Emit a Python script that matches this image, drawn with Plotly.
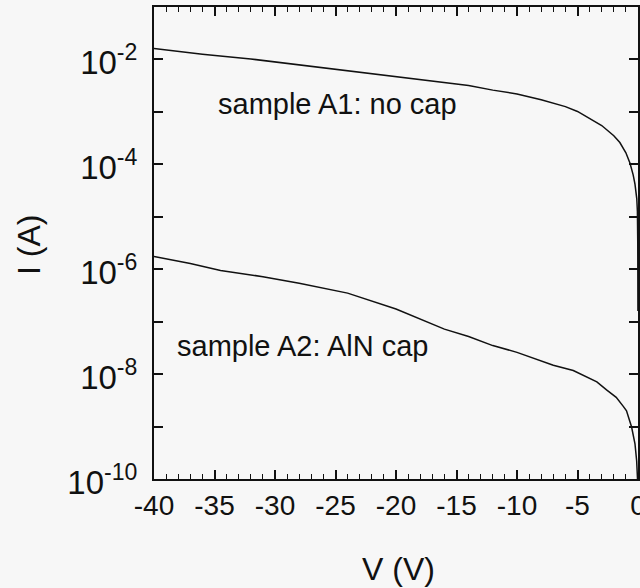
import plotly.graph_objects as go

# Sample A1: no cap
v_a1 = [-40, -36, -32, -28, -24, -20, -16, -14, -12, -10, -8, -6, -5, -4, -3, -2,
        -1.5, -1, -0.66, -0.4, -0.25, -0.1, -0.05, -0.02, -0.005]
i_a1 = [1.62e-2, 1.26e-2, 1.02e-2, 7.9e-3, 6.0e-3, 4.7e-3, 3.6e-3, 3.2e-3, 2.6e-3,
        2.2e-3, 1.7e-3, 1.26e-3, 1.02e-3, 7.6e-4, 5.5e-4, 3.5e-4, 2.6e-4, 1.66e-4,
        1.05e-4, 6.3e-5, 4.2e-5, 2.2e-5, 1.26e-5, 3.2e-6, 1.6e-7]

# Sample A2: AlN cap
v_a2 = [-40, -37, -34.5, -31, -28, -24, -20, -16, -14, -12, -10, -8, -7, -5.35, -4.5,
        -3.4, -2.6, -1.8, -1.2, -0.95, -0.53, -0.25, -0.11, -0.04]
i_a2 = [1.74e-6, 1.29e-6, 9.5e-7, 7.2e-7, 5.4e-7, 3.5e-7, 1.74e-7, 7.2e-8, 5.2e-8,
        3.5e-8, 2.6e-8, 1.78e-8, 1.48e-8, 1.17e-8, 9.5e-9, 7.1e-9, 5.0e-9, 3.6e-9,
        2.4e-9, 2.0e-9, 9.8e-10, 4.7e-10, 2.2e-10, 1.0e-10]

x_range = [-40, 0]
x_tickvals = [-40, -35, -30, -25, -20, -15, -10, -5, 0]
x_ticktext = ["-40", "-35", "-30", "-25", "-20", "-15", "-10", "-5", "0"]
x_minor_tickvals = list(range(-39, 0))
y_tickvals = [1e-10, 1e-9, 1e-8, 1e-7, 1e-6, 1e-5, 1e-4, 1e-3, 1e-2, 1e-1]
y_ticktext = ["10<sup>-10</sup>", "", "10<sup>-8</sup>", "", "10<sup>-6</sup>", "",
              "10<sup>-4</sup>", "", "10<sup>-2</sup>", ""]

label_a1 = "sample A1: no cap"
label_a2 = "sample A2: AlN cap"
x_title = "V (V)"
y_title = "I (A)"

FONT = "Liberation Sans, Arial, sans-serif"
INK = "#111111"

fig = go.Figure()
fig.add_trace(go.Scatter(x=v_a1, y=i_a1, mode="lines",
                         line=dict(color=INK, width=1.5), showlegend=False))
fig.add_trace(go.Scatter(x=v_a2, y=i_a2, mode="lines",
                         line=dict(color=INK, width=1.5), showlegend=False))
# invisible carrier trace so the minor-tick overlay axis is drawn
fig.add_trace(go.Scatter(x=v_a2, y=i_a2, mode="lines", xaxis="x2",
                         line=dict(color="rgba(0,0,0,0)", width=0),
                         hoverinfo="skip", showlegend=False))

fig.add_annotation(x=-34.9, y=-2.84, xref="x", yref="y", text=label_a1,
                   showarrow=False, xanchor="left", yanchor="middle",
                   font=dict(family=FONT, size=29, color=INK))
fig.add_annotation(x=-38.3, y=-7.47, xref="x", yref="y", text=label_a2,
                   showarrow=False, xanchor="left", yanchor="middle",
                   font=dict(family=FONT, size=29, color=INK))

# axis titles
fig.add_annotation(x=0.506, y=-0.19, xref="paper", yref="paper", text=x_title,
                   showarrow=False, xanchor="center", yanchor="middle",
                   font=dict(family=FONT, size=32, color=INK))
fig.add_annotation(x=-0.258, y=0.496, xref="paper", yref="paper", text=y_title,
                   showarrow=False, xanchor="center", yanchor="middle", textangle=-90,
                   font=dict(family=FONT, size=32, color=INK))

fig.update_layout(
    width=640, height=588,
    margin=dict(l=154, r=2, t=7, b=109, autoexpand=False),
    paper_bgcolor="#f7f7f7", plot_bgcolor="#f7f7f7",
    font=dict(family=FONT, color=INK),
    xaxis=dict(
        range=x_range, tickvals=x_tickvals, ticktext=x_ticktext,
        ticks="inside", ticklen=9, tickwidth=1.5, tickcolor=INK,
        showline=True, linecolor=INK, linewidth=2, mirror="ticks",
        showgrid=False, zeroline=False, automargin=False,
        ticklabeloverflow="allow",
        tickfont=dict(family=FONT, size=28, color=INK),
    ),
    xaxis2=dict(
        overlaying="x", anchor="y", side="bottom", matches="x",
        range=x_range, tickvals=x_minor_tickvals, showticklabels=False,
        ticks="inside", ticklen=5, tickwidth=1.2, tickcolor=INK,
        showline=True, linecolor=INK, linewidth=2, mirror="ticks",
        showgrid=False, zeroline=False, automargin=False,
    ),
    yaxis=dict(
        type="log", range=[-10, -1], tickvals=y_tickvals, ticktext=y_ticktext,
        ticks="inside", ticklen=9, tickwidth=1.5, tickcolor=INK,
        showline=True, linecolor=INK, linewidth=2, mirror="ticks",
        showgrid=False, zeroline=False, automargin=False,
        ticklabeloverflow="allow", ticklabelstandoff=8, ticklabelshift=3,
        tickfont=dict(family=FONT, size=33, color=INK),
    ),
)

fig.write_html(
    "out.html",
    config={"displayModeBar": False},
    post_script="document.body.style.margin='0';document.body.style.background='#f7f7f7';",
)
